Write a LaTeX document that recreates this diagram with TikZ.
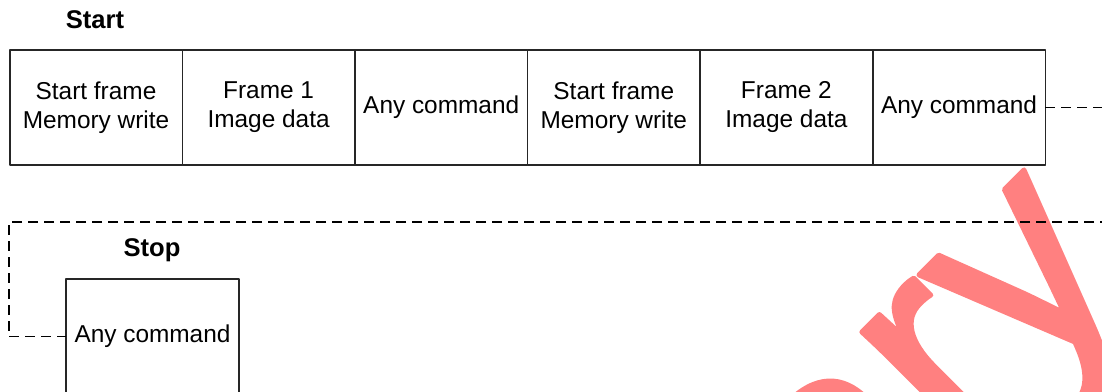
\documentclass[tikz,border=0pt]{standalone}
\usepackage{fontspec}
\setmainfont{Liberation Sans}
\newfontfamily\markfont[FakeBold=1.6]{Liberation Sans}
\usetikzlibrary{positioning}
\begin{document}
\begin{tikzpicture}[x=0.5pt, y=-0.5pt, line join=round,
	font=\fontsize{12.2}{14.5}\selectfont,
	cell/.style={draw=black!85, line width=0.8pt, fill=white, minimum width=86.3pt, minimum height=57.5pt, inner sep=0pt, outer sep=0pt, align=center},
	head/.style={font=\fontsize{12.8}{15}\selectfont\bfseries},
	flow/.style={line width=0.7pt, dash pattern=on 4.8pt off 3.2pt}]
	\clip (0,0) rectangle (1102,391);
	% watermark
	\node[rotate=45, anchor=base east, inner sep=0pt, text=red!50, font=\markfont\fontsize{150}{150}\selectfont] (mark) at (1137,281) {Preliminary};
	% frame sequence
	\node[cell] (sf1) at (96,107.5) {Start frame\\Memory write};
	\node[cell, right=0pt of sf1] (img1) {Frame 1\\Image data};
	\node[cell, right=0pt of img1] (cmd1) {Any command};
	\node[cell, right=0pt of cmd1] (sf2) {Start frame\\Memory write};
	\node[cell, right=0pt of sf2] (img2) {Frame 2\\Image data};
	\node[cell, right=0pt of img2] (cmd2) {Any command};
	\node[cell] (stop) at (152.5,336.5) {Any command};
	\node[head] (startlbl) at (95,20) {Start};
	\node[head] (stoplbl) at (152,250) {Stop};
	% wrap-around
	\path
	(1110,107.5) coordinate (outR)
	(1110,222) coordinate (backR)
	(9,222) coordinate (backL)
	;
	\draw[flow] (cmd2.east) -- (outR);
	\draw[flow] (backR) -- (backL) |- (stop.west);
\end{tikzpicture}
\end{document}
